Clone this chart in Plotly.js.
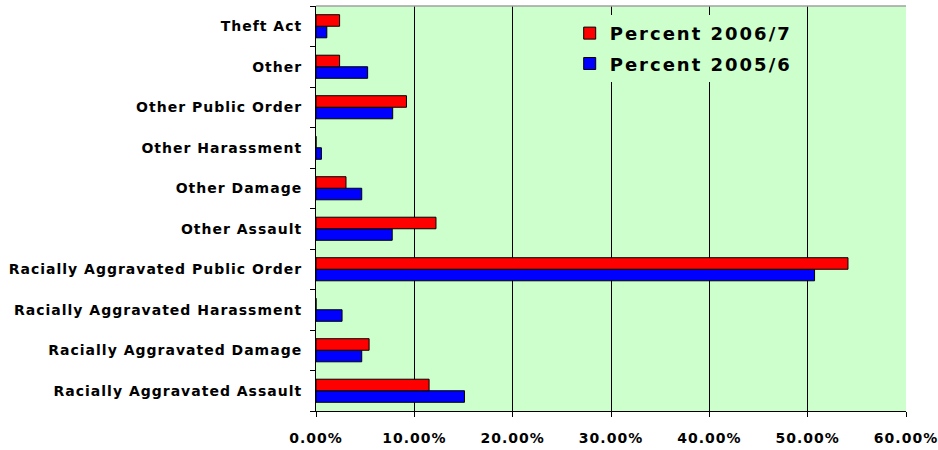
<!DOCTYPE html>
<html>
<head>
<meta charset="utf-8">
<script src="https://cdn.plot.ly/plotly-3.0.1.min.js"></script>
<style>
html,body{margin:0;padding:0;background:#fff;}
#chart{width:938px;height:450px;}
#chart .ytick text, #chart .xtick text {letter-spacing:1px;}
#chart .legendtext {letter-spacing:2px;}
#chart .legend .scrollbox {clip-path:none !important;}
#chart .legend rect.bg {width:232px;}
</style>
</head>
<body>
<div id="chart"></div>
<script>
// Categories listed bottom to top
const categories = [
  "Racially Aggravated Assault",
  "Racially Aggravated Damage",
  "Racially Aggravated Harassment",
  "Racially Aggravated Public Order",
  "Other Assault",
  "Other Damage",
  "Other Harassment",
  "Other Public Order",
  "Other",
  "Theft Act"
];
const percent2006_7 = [11.5, 5.4, 0, 54.1, 12.2, 3.05, 0, 9.2, 2.4, 2.4];
const percent2005_6 = [15.1, 4.65, 2.65, 50.7, 7.75, 4.65, 0.55, 7.8, 5.25, 1.1];
const seriesNames = ["Percent 2005/6", "Percent 2006/7"];
const xTickVals = [0, 10, 20, 30, 40, 50, 60];
const xTickLabels = ["0.00%", "10.00%", "20.00%", "30.00%", "40.00%", "50.00%", "60.00%"];

const labelFont = {family: "DejaVu Sans", size: 14, color: "#000", weight: "bold"};

const traces = [
  {type: "bar", orientation: "h", name: seriesNames[0], legendgroup: "a", legendrank: 2,
   y: categories, x: percent2005_6,
   marker: {color: "#0000FF", line: {color: "#000", width: 1}}, hoverinfo: "x+y"},
  {type: "bar", orientation: "h", name: seriesNames[1], legendgroup: "b", legendrank: 1,
   y: categories, x: percent2006_7,
   marker: {color: "#FF0000", line: {color: "#000", width: 1}}, hoverinfo: "x+y"}
];

const layout = {
  width: 938, height: 450,
  margin: {l: 316, r: 32, t: 6, b: 39},
  paper_bgcolor: "#FFFFFF",
  plot_bgcolor: "#CCFFCC",
  barmode: "group",
  bargap: 0.43,
  bargroupgap: 0,
  showlegend: true,
  legend: {
    x: 0.43, y: 0.978, xanchor: "left", yanchor: "top",
    bgcolor: "#CCFFCC", traceorder: "grouped", tracegroupgap: 4,
    font: {family: "DejaVu Sans", size: 18, color: "#000", weight: "bold"},
    itemwidth: 30
  },
  xaxis: {
    range: [0, 60], tickvals: xTickVals, ticktext: xTickLabels,
    showgrid: true, gridcolor: "#000", gridwidth: 1,
    showline: true, linecolor: "#000", linewidth: 1,
    ticks: "outside", ticklen: 5, tickcolor: "#000",
    tickfont: labelFont, ticklabelstandoff: 9, zeroline: false, fixedrange: true
  },
  yaxis: {
    type: "category", categoryorder: "array", categoryarray: categories,
    showgrid: false, showline: true, linecolor: "#000", linewidth: 1,
    ticks: "outside", ticklen: 5, tickcolor: "#000", tickson: "boundaries",
    tickfont: labelFont, ticklabelstandoff: 10, fixedrange: true
  },
  shapes: [
    {type: "line", xref: "paper", yref: "paper", x0: 0, x1: 1, y0: 1, y1: 1,
     line: {color: "#A0A0A0", width: 1.5}}
  ]
};

Plotly.newPlot("chart", traces, layout, {displayModeBar: false, staticPlot: true});
</script>
</body>
</html>
